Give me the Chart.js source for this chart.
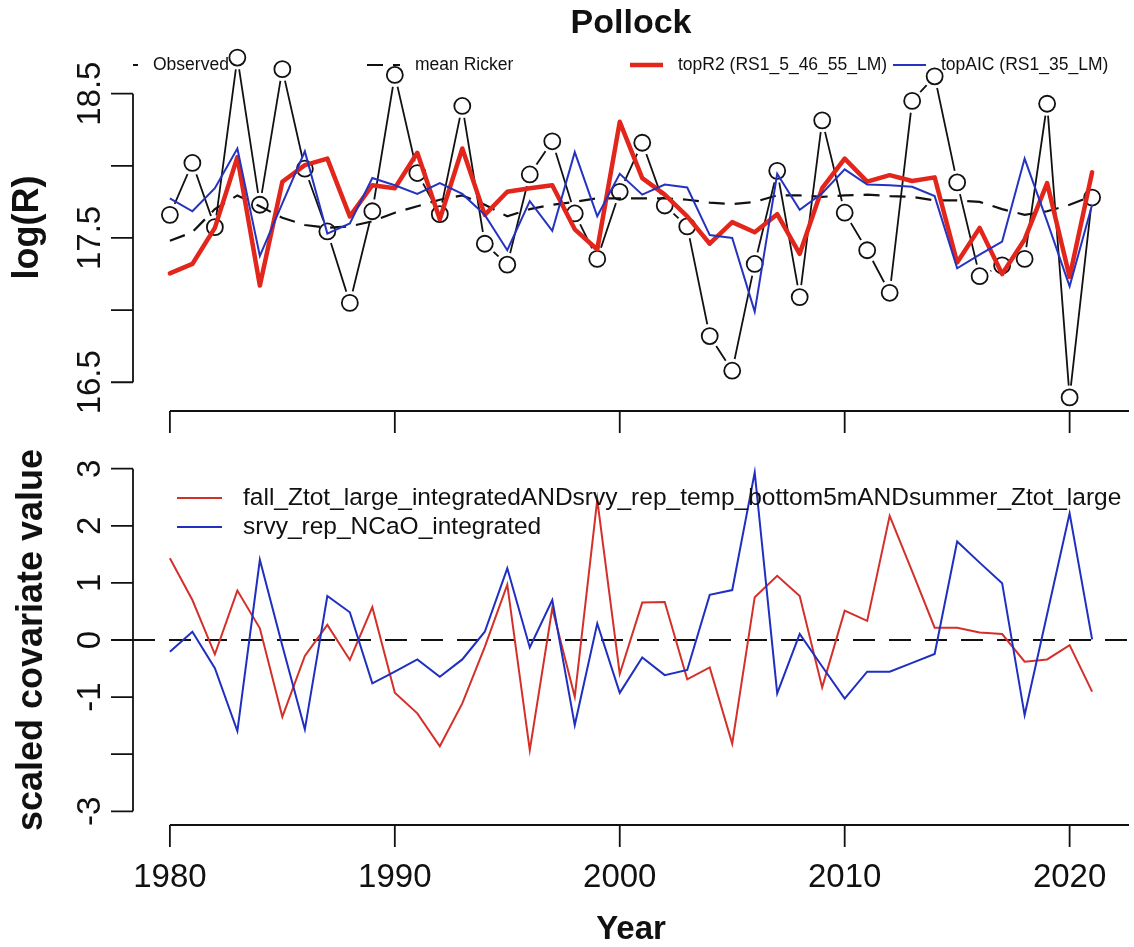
<!DOCTYPE html>
<html>
<head>
<meta charset="utf-8">
<title>Pollock</title>
<script src="https://cdn.jsdelivr.net/npm/chart.js@4.4.1/dist/chart.umd.min.js"></script>
<style>
  html, body { margin: 0; padding: 0; background: #fff; }
  #wrap { position: relative; width: 1134px; height: 947px; }
  canvas { position: absolute; left: 0; }
  #recruits { top: 0; }
  #covariates { top: 445px; }
</style>
</head>
<body>
<div id="wrap">
  <canvas id="recruits" width="1134" height="445"></canvas>
  <canvas id="covariates" width="1134" height="502"></canvas>
</div>
<script>
// --- data -------------------------------------------------------------
const years = [1980, 1981, 1982, 1983, 1984, 1985, 1986, 1987, 1988, 1989,
               1990, 1991, 1992, 1993, 1994, 1995, 1996, 1997, 1998, 1999,
               2000, 2001, 2002, 2003, 2004, 2005, 2006, 2007, 2008, 2009,
               2010, 2011, 2012, 2013, 2014, 2015, 2016, 2017, 2018, 2019,
               2020, 2021];

// log recruitment
const observed = [17.66, 18.02, 17.575, 18.75, 17.73, 18.67, 17.98, 17.545, 17.05, 17.685,
                  18.63, 17.95, 17.665, 18.415, 17.46, 17.315, 17.94, 18.17, 17.67, 17.355,
                  17.82, 18.16, 17.725, 17.58, 16.82, 16.58, 17.32, 17.965, 17.09, 18.315,
                  17.675, 17.415, 17.12, 18.45, 18.62, 17.885, 17.235, 17.31, 17.355, 18.43,
                  16.395, 17.78];
const meanRicker = [17.48, 17.54, 17.70, 17.795, 17.72, 17.64, 17.59, 17.57, 17.58, 17.615,
                    17.675, 17.72, 17.765, 17.795, 17.73, 17.65, 17.70, 17.73, 17.75, 17.775,
                    17.775, 17.775, 17.775, 17.765, 17.745, 17.735, 17.75, 17.795, 17.795, 17.785,
                    17.795, 17.80, 17.79, 17.785, 17.76, 17.76, 17.75, 17.70, 17.66, 17.685,
                    17.73, 17.79];
const topR2 = [17.255, 17.32, 17.57, 18.06, 17.17, 17.89, 18.005, 18.05, 17.65, 17.865,
               17.845, 18.09, 17.63, 18.12, 17.66, 17.82, 17.845, 17.865, 17.56, 17.42,
               18.305, 17.915, 17.80, 17.65, 17.46, 17.61, 17.54, 17.665, 17.39, 17.845,
               18.05, 17.89, 17.935, 17.895, 17.92, 17.33, 17.57, 17.25, 17.49, 17.88,
               17.23, 17.955];
const topAIC = [17.775, 17.685, 17.845, 18.12, 17.375, 17.74, 18.10, 17.53, 17.60, 17.915,
                17.865, 17.805, 17.88, 17.805, 17.66, 17.415, 17.755, 17.55, 18.095, 17.65,
                17.945, 17.80, 17.87, 17.85, 17.52, 17.50, 16.99, 17.945, 17.695, 17.81,
                17.975, 17.87, 17.865, 17.855, 17.79, 17.29, 17.385, 17.475, 18.05, 17.615,
                17.165, 17.73];

// scaled covariates
const covFall = [1.43, 0.70, -0.25, 0.865, 0.205, -1.345, -0.28, 0.265, -0.35, 0.575,
                 -0.925, -1.285, -1.86, -1.11, -0.12, 0.97, -1.93, 0.555, -0.995, 2.455,
                 -0.595, 0.655, 0.665, -0.69, -0.48, -1.815, 0.75, 1.125, 0.77, -0.83,
                 0.515, 0.335, 2.175, 1.20, 0.215, 0.215, 0.13, 0.105, -0.38, -0.34,
                 -0.09, -0.905];
const covNCaO = [-0.205, 0.145, -0.495, -1.595, 1.405, -0.10, -1.565, 0.77, 0.485, -0.76,
                 -0.555, -0.34, -0.645, -0.34, 0.145, 1.255, -0.13, 0.70, -1.49, 0.29,
                 -0.925, -0.305, -0.615, -0.525, 0.79, 0.875, 2.935, -0.935, 0.105, -0.465,
                 -1.025, -0.555, -0.555, -0.40, -0.245, 1.725, 1.355, 0.995, -1.315, 0.45,
                 2.22, 0.01];
const covRange = [-3, 3];

// axis ticks (empty label = tick without text)
const xTicks = [1980, 1990, 2000, 2010, 2020];
const xTickLabels = ['1980', '1990', '2000', '2010', '2020'];
const yTicksTop = [16.5, 17, 17.5, 18, 18.5];
const yTickLabelsTop = ['16.5', '', '17.5', '', '18.5'];
const yTicksBottom = [-3, -2, -1, 0, 1, 2, 3];
const yTickLabelsBottom = ['-3', '', '-1', '0', '1', '2', '3'];

// --- helpers ----------------------------------------------------------
const FONT = "'Liberation Sans', Arial, Helvetica, sans-serif";
Chart.defaults.font.family = FONT;
Chart.defaults.color = '#111';

function yearPoints(values) {
  return years.map((yr, i) => ({ x: yr, y: values[i] }));
}

// base-graphics style range: 4% padding on each side
function padRange(lo, hi) {
  const pad = (hi - lo) * 0.04;
  return [lo - pad, hi + pad];
}

const xRange = padRange(years[0], years[years.length - 1]);
const topRange = padRange(
  Math.min(...observed, ...meanRicker, ...topR2, ...topAIC),
  Math.max(...observed, ...meanRicker, ...topR2, ...topAIC)
);
const bottomRange = padRange(covRange[0], covRange[1]);

// axes drawn the old-school way: line spans the ticks, ticks point outward
const rAxes = {
  id: 'rAxes',
  afterDatasetsDraw(chart, args, opts) {
    const { ctx, chartArea: area, scales: { x, y } } = chart;
    const xs = x.ticks.map(t => x.getPixelForValue(t.value));
    const ys = y.ticks.map(t => y.getPixelForValue(t.value));
    ctx.save();
    ctx.strokeStyle = opts.color;
    ctx.fillStyle = opts.color;
    ctx.lineWidth = opts.lineWidth;
    ctx.beginPath();
    ctx.moveTo(xs[0], area.bottom);
    ctx.lineTo(area.right, area.bottom);
    xs.forEach(px => {
      ctx.moveTo(px, area.bottom);
      ctx.lineTo(px, area.bottom + opts.tickLength);
    });
    ctx.moveTo(area.left, ys[0]);
    ctx.lineTo(area.left, ys[ys.length - 1]);
    ys.forEach(py => {
      ctx.moveTo(area.left, py);
      ctx.lineTo(area.left - opts.tickLength, py);
    });
    ctx.stroke();

    ctx.font = opts.font;
    ctx.textAlign = 'center';
    ctx.textBaseline = 'alphabetic';
    if (opts.showXLabels) {
      xTickLabels.forEach((lab, i) => ctx.fillText(lab, xs[i], area.bottom + opts.xLabelOffset));
    }
    opts.yLabels.forEach((lab, i) => {
      if (!lab) return;
      ctx.save();
      ctx.translate(area.left - opts.yLabelOffset, ys[i]);
      ctx.rotate(-Math.PI / 2);
      ctx.fillText(lab, 0, 0);
      ctx.restore();
    });
    ctx.restore();
  }
};

// legend drawn inside the plot, clipped to the plot region
const rLegend = {
  id: 'rLegend',
  afterDatasetsDraw(chart, args, opts) {
    const { ctx, chartArea: area } = chart;
    const entries = chart.data.datasets.filter(ds => !ds.hideInLegend);
    ctx.save();
    ctx.beginPath();
    ctx.rect(area.left, area.top, area.width, area.height);
    ctx.clip();
    ctx.font = opts.font;
    ctx.textAlign = 'left';
    ctx.textBaseline = 'middle';
    entries.forEach((ds, i) => {
      const x0 = opts.itemX[i];
      const y0 = opts.itemY[i];
      const x1 = x0 + opts.lineLength;
      ctx.strokeStyle = ds.borderColor;
      ctx.lineWidth = ds.borderWidth;
      ctx.setLineDash(ds.borderDash || []);
      ctx.beginPath();
      ctx.moveTo(x0, y0);
      ctx.lineTo(x1, y0);
      ctx.stroke();
      ctx.setLineDash([]);
      if (ds.pointRadius > 0) {
        ctx.beginPath();
        ctx.arc((x0 + x1) / 2, y0, ds.pointRadius, 0, Math.PI * 2);
        ctx.fillStyle = '#fff';
        ctx.fill();
        ctx.lineWidth = ds.pointBorderWidth;
        ctx.stroke();
      }
      ctx.fillStyle = '#111';
      ctx.fillText(ds.label, x1 + opts.gap, y0);
    });
    ctx.restore();
  }
};

// horizontal reference line (abline)
const refLine = {
  id: 'refLine',
  beforeDatasetsDraw(chart, args, opts) {
    const { ctx, chartArea: area, scales: { y } } = chart;
    const py = y.getPixelForValue(opts.value);
    ctx.save();
    ctx.strokeStyle = opts.color;
    ctx.lineWidth = opts.width;
    ctx.setLineDash(opts.dash);
    ctx.beginPath();
    ctx.moveTo(area.left, py);
    ctx.lineTo(area.right, py);
    ctx.stroke();
    ctx.restore();
  }
};

function hiddenScale(extra) {
  return Object.assign({
    grid: { display: false },
    border: { display: false },
    ticks: { display: false }
  }, extra);
}

// --- top panel: recruitment -------------------------------------------
// observed series is drawn "type b": line, a white halo to open a gap, then open circles
new Chart(document.getElementById('recruits'), {
  type: 'line',
  data: {
    datasets: [
      {
        label: 'Observed',
        data: yearPoints(observed),
        showLine: false,
        borderColor: '#111',
        borderWidth: 1.8,
        pointRadius: 8,
        pointBorderWidth: 1.8,
        pointBorderColor: '#111',
        pointBackgroundColor: 'rgba(255,255,255,0)',
        order: 4
      },
      {
        label: 'mean Ricker',
        data: yearPoints(meanRicker),
        borderColor: '#111',
        borderWidth: 2.2,
        borderDash: [16, 10],
        pointRadius: 0,
        order: 3
      },
      {
        label: 'topR2 (RS1_5_46_55_LM)',
        data: yearPoints(topR2),
        borderColor: '#e2261b',
        borderWidth: 4.5,
        borderJoinStyle: 'round',
        borderCapStyle: 'round',
        pointRadius: 0,
        order: 2
      },
      {
        label: 'topAIC (RS1_35_LM)',
        data: yearPoints(topAIC),
        borderColor: '#2433c0',
        borderWidth: 2,
        pointRadius: 0,
        order: 1
      },
      {
        label: 'observed gap',
        hideInLegend: true,
        data: yearPoints(observed),
        showLine: false,
        pointRadius: 12,
        pointBorderWidth: 0,
        pointBackgroundColor: '#fff',
        pointBorderColor: '#fff',
        order: 5
      },
      {
        label: 'observed line',
        hideInLegend: true,
        data: yearPoints(observed),
        borderColor: '#111',
        borderWidth: 1.8,
        pointRadius: 0,
        order: 6
      }
    ]
  },
  options: {
    responsive: false,
    animation: false,
    events: [],
    layout: { autoPadding: false, padding: { right: 5 } },
    scales: {
      x: hiddenScale({
        type: 'linear',
        min: xRange[0],
        max: xRange[1],
        afterBuildTicks: s => { s.ticks = xTicks.map(v => ({ value: v })); },
        afterFit: s => { s.height = 34; }
      }),
      y: hiddenScale({
        type: 'linear',
        min: topRange[0],
        max: topRange[1],
        afterBuildTicks: s => { s.ticks = yTicksTop.map(v => ({ value: v })); },
        afterFit: s => { s.width = 133; },
        title: {
          display: true,
          text: 'log(R)',
          color: '#111',
          font: { size: 36, weight: 'bold', lineHeight: 1 },
          padding: { top: 10, bottom: 0 }
        }
      })
    },
    plugins: {
      legend: { display: false },
      tooltip: { enabled: false },
      title: {
        display: true,
        text: 'Pollock',
        fullSize: false,
        color: '#111',
        font: { size: 34, weight: 'bold', lineHeight: 1.2 },
        padding: { top: 3, bottom: 0.2 }
      },
      rAxes: {
        color: '#111', lineWidth: 1.8, tickLength: 22,
        font: '33px ' + FONT,
        showXLabels: false, xLabelOffset: 62,
        yLabels: yTickLabelsTop, yLabelOffset: 33
      },
      rLegend: {
        font: '17.5px ' + FONT,
        itemX: [105, 367, 630, 893],
        itemY: [65, 65, 65, 65],
        lineLength: 33,
        gap: 15
      }
    }
  },
  plugins: [rAxes, rLegend]
});

// --- bottom panel: covariates -----------------------------------------
new Chart(document.getElementById('covariates'), {
  type: 'line',
  data: {
    datasets: [
      {
        label: 'fall_Ztot_large_integratedANDsrvy_rep_temp_bottom5mANDsummer_Ztot_large',
        data: yearPoints(covFall),
        borderColor: '#d4302a',
        borderWidth: 2,
        pointRadius: 0,
        order: 2
      },
      {
        label: 'srvy_rep_NCaO_integrated',
        data: yearPoints(covNCaO),
        borderColor: '#1f2fc0',
        borderWidth: 2,
        pointRadius: 0,
        order: 1
      }
    ]
  },
  options: {
    responsive: false,
    animation: false,
    events: [],
    layout: { autoPadding: false, padding: { top: 10, right: 5 } },
    scales: {
      x: hiddenScale({
        type: 'linear',
        min: xRange[0],
        max: xRange[1],
        afterBuildTicks: s => { s.ticks = xTicks.map(v => ({ value: v })); },
        afterFit: s => { s.height = 122; },
        title: {
          display: true,
          text: 'Year',
          color: '#111',
          font: { size: 33, weight: 'bold', lineHeight: 1 },
          padding: { top: 0, bottom: 1 }
        }
      }),
      y: hiddenScale({
        type: 'linear',
        min: bottomRange[0],
        max: bottomRange[1],
        afterBuildTicks: s => { s.ticks = yTicksBottom.map(v => ({ value: v })); },
        afterFit: s => { s.width = 133; },
        title: {
          display: true,
          text: 'scaled covariate value',
          color: '#111',
          font: { size: 36, weight: 'bold', lineHeight: 1 },
          padding: { top: 14, bottom: 0 }
        }
      })
    },
    plugins: {
      legend: { display: false },
      tooltip: { enabled: false },
      rAxes: {
        color: '#111', lineWidth: 1.8, tickLength: 22,
        font: '33px ' + FONT,
        showXLabels: true, xLabelOffset: 62,
        yLabels: yTickLabelsBottom, yLabelOffset: 33
      },
      rLegend: {
        font: '24.5px ' + FONT,
        itemX: [177, 177],
        itemY: [53, 82],
        lineLength: 45,
        gap: 21
      },
      refLine: { value: 0, color: '#111', width: 2.2, dash: [22, 14] }
    }
  },
  plugins: [refLine, rAxes, rLegend]
});
</script>
</body>
</html>
